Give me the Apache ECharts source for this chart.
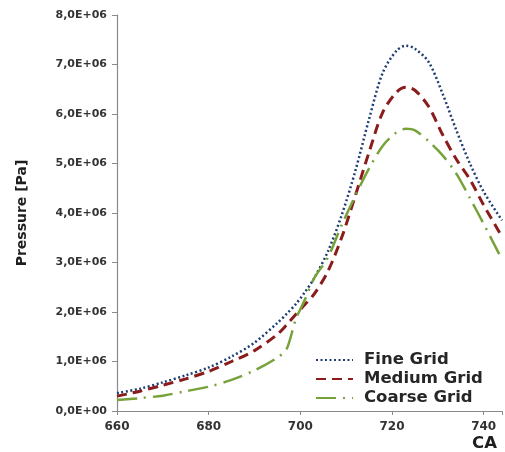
<!DOCTYPE html>
<html lang="en">
<head>
    <meta charset="UTF-8">
    <title>Pressure vs CA</title>
    <script src="https://cdn.jsdelivr.net/npm/echarts/dist/echarts.min.js"></script>
    <style>
        body { margin: 0; background: #fff; }
    </style>
</head>
<body>
    <div id="chart" style="width: 505px; height: 452px;"></div>

    <script>
        // crank angle samples (shared by all three series)
        var ca = [660, 665, 670, 675, 680, 685, 690, 695, 697, 699, 701, 703, 706, 709,
                  712, 715, 718, 721, 723, 725, 728, 731, 734, 737, 740, 744];

        // pressure in MPa
        var fineGrid = [0.36, 0.45, 0.58, 0.72, 0.88, 1.10, 1.38, 1.78, 1.96, 2.16, 2.40, 2.68, 3.22, 3.95,
                        4.85, 5.90, 6.84, 7.28, 7.38, 7.32, 7.05, 6.42, 5.68, 5.00, 4.43, 3.85];
        var mediumGrid = [0.30, 0.40, 0.52, 0.65, 0.80, 1.00, 1.22, 1.55, 1.74, 1.95, 2.15, 2.36, 2.82, 3.50,
                          4.35, 5.23, 6.04, 6.44, 6.54, 6.48, 6.15, 5.59, 5.09, 4.68, 4.16, 3.52];
        var coarseGrid = [0.22, 0.26, 0.31, 0.40, 0.49, 0.63, 0.82, 1.08, 1.25, 1.85, 2.25, 2.68, 3.10, 3.75,
                          4.35, 4.90, 5.36, 5.63, 5.70, 5.67, 5.45, 5.17, 4.80, 4.30, 3.78, 3.06];

        var seriesNames = ['Fine Grid', 'Medium Grid', 'Coarse Grid'];
        var yTicks = [0, 1, 2, 3, 4, 5, 6, 7, 8];

        function pairs(values) {
            return ca.map(function (x, i) { return [x, values[i] * 1e6]; });
        }

        var chart = echarts.init(document.getElementById('chart'));

        var font = '"DejaVu Sans", sans-serif';

        var options = {
            animation: false,
            textStyle: { fontFamily: font },
            grid: { left: 117, top: 15, right: 0, bottom: 40, containLabel: false },
            legend: {
                orient: 'vertical',
                left: 310,
                top: 346,
                itemWidth: 37,
                itemHeight: 12,
                itemGap: 1,
                itemStyle: { opacity: 0 },
                textStyle: {
                    fontFamily: font, fontSize: 16.5, fontWeight: 'bold', color: '#262626',
                    lineHeight: 18, padding: [0, 0, 0, 6]
                },
                data: seriesNames
            },
            xAxis: {
                type: 'value',
                min: 660,
                max: 744,
                interval: 20,
                name: 'CA',
                nameLocation: 'end',
                nameGap: 0,
                nameTextStyle: {
                    fontFamily: font, fontSize: 16.5, fontWeight: 'bold', color: '#1e1e1e',
                    align: 'right', verticalAlign: 'top', padding: [24, 5, 0, 0]
                },
                axisLine: { lineStyle: { color: '#8a8a8a', width: 1.2 } },
                axisTick: { length: 4, lineStyle: { color: '#8a8a8a' } },
                axisLabel: {
                    fontFamily: font, fontSize: 12, fontWeight: 'bold', color: '#333', margin: 10,
                    formatter: function (v) { return v % 20 === 0 ? String(v) : ''; }
                },
                splitLine: { show: false }
            },
            yAxis: {
                type: 'value',
                min: 0,
                max: 8e6,
                interval: 1e6,
                name: 'Pressure [Pa]',
                nameLocation: 'middle',
                nameGap: 88,
                nameRotate: 90,
                nameTextStyle: { fontFamily: font, fontSize: 14, fontWeight: 'bold', color: '#1e1e1e' },
                axisLine: { show: true, lineStyle: { color: '#8a8a8a', width: 1.2 } },
                axisTick: { show: true, length: 5, lineStyle: { color: '#8a8a8a' } },
                axisLabel: {
                    fontFamily: font, fontSize: 11, fontWeight: 'bold', color: '#333', margin: 10,
                    formatter: function (v) {
                        var m = Math.round(v / 1e6);
                        if (yTicks.indexOf(m) < 0) return '';
                        return m.toFixed(1).replace('.', ',') + (m === 0 ? 'E+00' : 'E+06');
                    }
                },
                splitLine: { show: false }
            },
            series: [
                {
                    name: seriesNames[0],
                    type: 'line',
                    data: pairs(fineGrid),
                    smooth: 0.3,
                    symbol: 'none',
                    lineStyle: { color: '#1f3d73', width: 2.5, type: [2, 2.5] },
                    itemStyle: { color: '#1f3d73' }
                },
                {
                    name: seriesNames[1],
                    type: 'line',
                    data: pairs(mediumGrid),
                    smooth: 0.3,
                    symbol: 'none',
                    lineStyle: { color: '#8b1c1c', width: 3, type: [10, 6] },
                    itemStyle: { color: '#8b1c1c' }
                },
                {
                    name: seriesNames[2],
                    type: 'line',
                    data: pairs(coarseGrid),
                    smooth: 0.3,
                    symbol: 'none',
                    lineStyle: { color: '#77a23a', width: 2.5, type: [20, 7, 2, 7] },
                    itemStyle: { color: '#77a23a' }
                }
            ]
        };

        chart.setOption(options);
    </script>
</body>
</html>
